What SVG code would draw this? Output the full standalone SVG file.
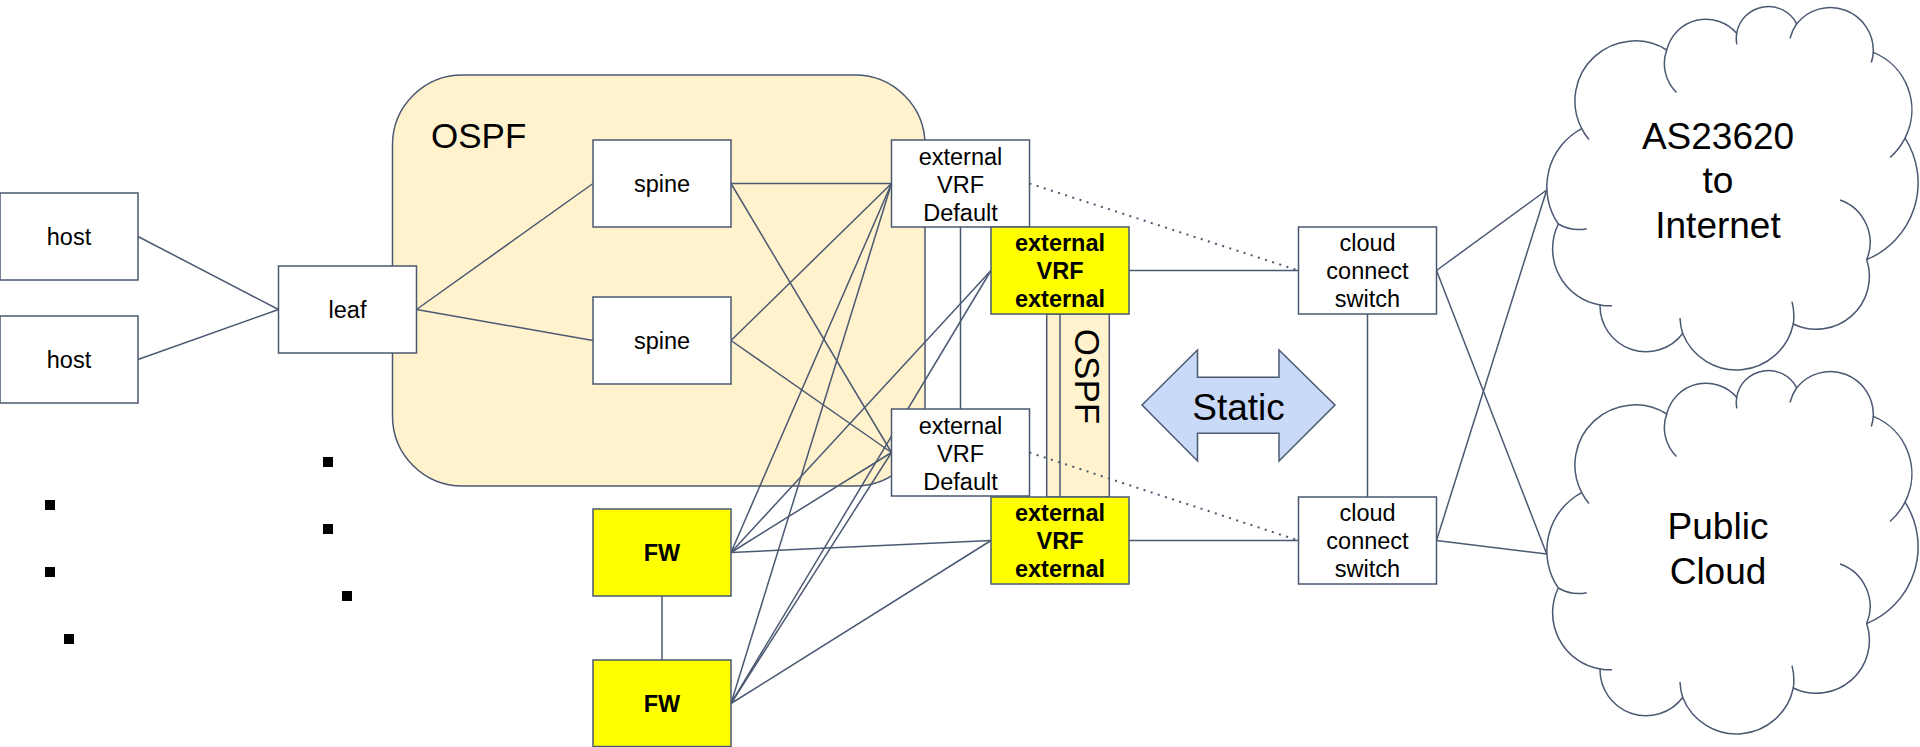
<svg xmlns="http://www.w3.org/2000/svg" width="1920" height="747" viewBox="0 0 1920 747">
<style>
.ln{stroke:#4a5872;stroke-width:1.5;fill:none}
.dot{stroke:#4a5872;stroke-width:2;fill:none;stroke-dasharray:2 5.5}
.box{fill:#ffffff;stroke:#4a5872;stroke-width:1.5}
.ybox{fill:#ffff00;stroke:#4a5872;stroke-width:1.5}
.t{font-family:"Liberation Sans",Arial,Helvetica,sans-serif;font-size:23.5px;text-anchor:middle;fill:#000}
.b{font-weight:bold}
.big{font-family:"Liberation Sans",Arial,Helvetica,sans-serif;font-size:35px;fill:#000}
.cl{font-family:"Liberation Sans",Arial,Helvetica,sans-serif;font-size:37px;text-anchor:middle;fill:#000}
.sq{fill:#000}
</style>
<defs>
<g id="cloudShape">
<path class="box" d="M1581.7,128.6 A60 60 0 0 1 1666.7,50 A40.5 40.5 0 0 1 1736.7,33.3 A32 32 0 0 1 1796.7,23.8 A43 43 0 0 1 1873.3,52.4 A62 62 0 0 1 1905,138.1 A83 83 0 0 1 1866.7,259.6 A53 53 0 0 1 1793.3,324 A58 58 0 0 1 1682.7,333.5 A46 46 0 0 1 1600,305 A57 57 0 0 1 1558.3,224 A66 66 0 0 1 1581.7,128.6 Z"/>
<path class="ln" d="M1666.7,50 A40.5 40.5 0 0 0 1676.5,92.5 M1736.7,33.3 A32 32 0 0 0 1736.8,44.4 M1796.7,23.8 A43 43 0 0 0 1790,38.5 M1873.3,52.4 A43 43 0 0 1 1871.3,62.5 M1905,138.1 A62 62 0 0 1 1890,157.5 M1866.7,259.6 A45 45 0 0 0 1840,200 M1793.3,324 A57 57 0 0 0 1792,301.6 M1682.7,333.5 A57 57 0 0 1 1680,318 M1600,305 A57 57 0 0 0 1612,305.8 M1558.3,224 A40 40 0 0 0 1586.7,228.7 M1581.7,128.6 A60 60 0 0 0 1589,139.5"/>
</g>
</defs>
<rect width="1920" height="747" fill="#ffffff"/>

<g id="ospf-region">
<rect x="392.5" y="75" width="532.5" height="411" rx="70" ry="70" fill="#fff2cc" stroke="#4a5872" stroke-width="1.5"/>
<text class="big" x="431" y="148">OSPF</text>
</g>

<g id="ospf-strip">
<rect x="1046.7" y="314" width="62.6" height="183" fill="#fff2cc" stroke="#4a5872" stroke-width="1.5"/>
<text class="big" text-anchor="middle" transform="translate(1075,376.5) rotate(90)">OSPF</text>
</g>

<g id="connectors">
<line class="ln" x1="138" y1="236.5" x2="278.5" y2="309.5"/>
<line class="ln" x1="138" y1="359.5" x2="278.5" y2="309.5"/>
<line class="ln" x1="416.5" y1="309.5" x2="593" y2="183.5"/>
<line class="ln" x1="416.5" y1="309.5" x2="593" y2="340.5"/>
<line class="ln" x1="731" y1="183.5" x2="891.5" y2="183.5"/>
<line class="ln" x1="731" y1="183.5" x2="891.5" y2="452.5"/>
<line class="ln" x1="731" y1="340.5" x2="891.5" y2="183.5"/>
<line class="ln" x1="731" y1="340.5" x2="891.5" y2="452.5"/>
<line class="ln" x1="731" y1="552.5" x2="891.5" y2="183.5"/>
<line class="ln" x1="731" y1="552.5" x2="991" y2="270.5"/>
<line class="ln" x1="731" y1="552.5" x2="891.5" y2="452.5"/>
<line class="ln" x1="731" y1="552.5" x2="991" y2="540.5"/>
<line class="ln" x1="731" y1="703.5" x2="891.5" y2="183.5"/>
<line class="ln" x1="731" y1="703.5" x2="991" y2="270.5"/>
<line class="ln" x1="731" y1="703.5" x2="891.5" y2="452.5"/>
<line class="ln" x1="731" y1="703.5" x2="991" y2="540.5"/>
<line class="ln" x1="662" y1="596" x2="662" y2="660"/>
<line class="ln" x1="960.5" y1="227" x2="960.5" y2="409"/>
<line class="ln" x1="1060" y1="314" x2="1060" y2="497"/>
<line class="ln" x1="1129" y1="270.5" x2="1298.5" y2="270.5"/>
<line class="ln" x1="1129" y1="540.5" x2="1298.5" y2="540.5"/>
<line class="dot" x1="1029.5" y1="183.5" x2="1298.5" y2="270.5"/>
<line class="dot" x1="1029.5" y1="452.5" x2="1298.5" y2="540.5"/>
<line class="ln" x1="1367.5" y1="314" x2="1367.5" y2="497"/>
<line class="ln" x1="1436.5" y1="270.5" x2="1546.7" y2="190"/>
<line class="ln" x1="1436.5" y1="270.5" x2="1546.7" y2="554"/>
<line class="ln" x1="1436.5" y1="540.5" x2="1546.7" y2="190"/>
<line class="ln" x1="1436.5" y1="540.5" x2="1546.7" y2="554"/>
</g>

<g id="host1"><rect class="box" x="0" y="193" width="138" height="87"/><text class="t" x="69" y="245">host</text></g>
<g id="host2"><rect class="box" x="0" y="316" width="138" height="87"/><text class="t" x="69" y="368">host</text></g>
<g id="leaf"><rect class="box" x="278.5" y="266" width="138" height="87"/><text class="t" x="347.5" y="318">leaf</text></g>
<g id="spine1"><rect class="box" x="593" y="140" width="138" height="87"/><text class="t" x="662" y="192">spine</text></g>
<g id="spine2"><rect class="box" x="593" y="297" width="138" height="87"/><text class="t" x="662" y="349">spine</text></g>
<g id="ext-default-1"><rect class="box" x="891.5" y="140" width="138" height="87"/><text class="t" x="960.5" y="164.5">external</text><text class="t" x="960.5" y="192.5">VRF</text><text class="t" x="960.5" y="220.5">Default</text></g>
<g id="ext-default-2"><rect class="box" x="891.5" y="409" width="138" height="87"/><text class="t" x="960.5" y="433.5">external</text><text class="t" x="960.5" y="461.5">VRF</text><text class="t" x="960.5" y="489.5">Default</text></g>
<g id="ext-external-1"><rect class="ybox" x="991" y="227" width="138" height="87"/><text class="t b" x="1060" y="251">external</text><text class="t b" x="1060" y="279">VRF</text><text class="t b" x="1060" y="307">external</text></g>
<g id="ext-external-2"><rect class="ybox" x="991" y="497" width="138" height="87"/><text class="t b" x="1060" y="521">external</text><text class="t b" x="1060" y="549">VRF</text><text class="t b" x="1060" y="577">external</text></g>
<g id="fw1"><rect class="ybox" x="593" y="509" width="138" height="87"/><text class="t b" x="662" y="561">FW</text></g>
<g id="fw2"><rect class="ybox" x="593" y="660" width="138" height="86.5"/><text class="t b" x="662" y="712">FW</text></g>
<g id="switch1"><rect class="box" x="1298.5" y="227" width="138" height="87"/><text class="t" x="1367.5" y="251">cloud</text><text class="t" x="1367.5" y="279">connect</text><text class="t" x="1367.5" y="307">switch</text></g>
<g id="switch2"><rect class="box" x="1298.5" y="497" width="138" height="87"/><text class="t" x="1367.5" y="521">cloud</text><text class="t" x="1367.5" y="549">connect</text><text class="t" x="1367.5" y="577">switch</text></g>

<g id="static-arrow">
<polygon points="1142,405 1197.5,350 1197.5,377.3 1279,377.3 1279,350 1335,405 1279,461 1279,433.3 1197.5,433.3 1197.5,461" fill="#c9daf8" stroke="#4a5872" stroke-width="1.5"/>
<text class="cl" x="1238.5" y="420">Static</text>
</g>

<g id="cloud-internet">
<use href="#cloudShape"/>
<text class="cl" x="1718" y="149">AS23620</text>
<text class="cl" x="1718" y="193">to</text>
<text class="cl" x="1718" y="237.5">Internet</text>
</g>
<g id="cloud-public">
<use href="#cloudShape" transform="translate(0,364)"/>
<text class="cl" x="1718" y="539">Public</text>
<text class="cl" x="1718" y="584">Cloud</text>
</g>

<g id="dots">
<rect class="sq" x="45" y="500" width="10" height="10"/>
<rect class="sq" x="45" y="567" width="10" height="10"/>
<rect class="sq" x="64" y="634" width="10" height="10"/>
<rect class="sq" x="323" y="457" width="10" height="10"/>
<rect class="sq" x="323" y="524" width="10" height="10"/>
<rect class="sq" x="342" y="591" width="10" height="10"/>
</g>
</svg>
